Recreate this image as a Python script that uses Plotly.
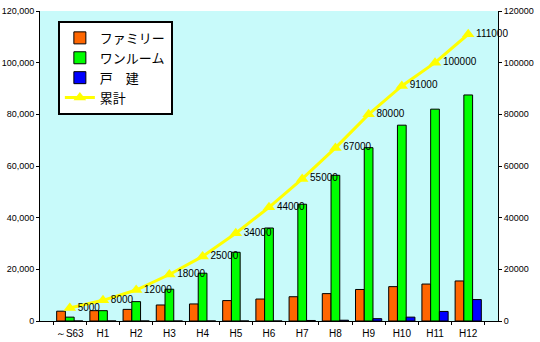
import plotly.graph_objects as go

categories = ["～S63", "H1", "H2", "H3", "H4", "H5", "H6", "H7", "H8", "H9", "H10", "H11", "H12"]
family = [3800, 4000, 4500, 6200, 6600, 7900, 8500, 9400, 10600, 12200, 13300, 14300, 15500]
oneroom = [1500, 4000, 7500, 12300, 18500, 26600, 36000, 45200, 56400, 67100, 75800, 82000, 87500]
kodate = [0, 0, 0, 0, 0, 0, 0, 200, 300, 900, 1500, 3700, 8300]
cumulative = [5000, 8000, 12000, 18000, 25000, 34000, 44000, 55000, 67000, 80000, 91000, 100000, 111000]

left_ticks = [0, 20000, 40000, 60000, 80000, 100000, 120000]

num_font = dict(family="Liberation Sans, Arial, sans-serif", size=9, color="black")
jp_font = "Noto Sans CJK JP, sans-serif"

fig = go.Figure()
fig.add_trace(go.Bar(name="ファミリー", x=categories, y=family,
                     marker=dict(color="#ff6600", line=dict(color="black", width=1))))
fig.add_trace(go.Bar(name="ワンルーム", x=categories, y=oneroom,
                     marker=dict(color="#00ff00", line=dict(color="black", width=1))))
fig.add_trace(go.Bar(name="戸　建", x=categories, y=kodate,
                     marker=dict(color="#0000ff", line=dict(color="black", width=1))))
fig.add_trace(go.Scatter(name="累計", x=categories, y=cumulative,
                         mode="lines+markers+text", cliponaxis=False,
                         line=dict(color="#ffff00", width=3),
                         marker=dict(symbol="triangle-up", size=11, color="#ffff00"),
                         text=[str(v) for v in cumulative], textposition="middle right",
                         textfont=dict(family="Liberation Sans, Arial, sans-serif", size=10, color="black")))
# invisible trace to drive right axis
fig.add_trace(go.Scatter(x=categories, y=cumulative, yaxis="y2", mode="markers",
                         marker=dict(opacity=0), showlegend=False, hoverinfo="skip"))

fig.update_layout(
    width=540, height=342,
    margin=dict(l=40, r=42, t=11, b=21),
    paper_bgcolor="white",
    plot_bgcolor="#c8fafa",
    barmode="group", bargap=0.21, bargroupgap=0,
    showlegend=True,
    legend=dict(x=0.039, y=0.968, xanchor="left", yanchor="top",
                bgcolor="white", bordercolor="black", borderwidth=2,
                font=dict(family=jp_font, size=13, color="black"),
                tracegroupgap=0, itemwidth=30),
    xaxis=dict(type="category", showline=True, linecolor="black", linewidth=1,
               ticks="outside", tickson="boundaries", ticklen=3, tickcolor="black",
               tickangle=0, automargin=False, ticklabelstandoff=3,
               showgrid=False, tickfont=dict(family="Liberation Sans, Arial, sans-serif", size=10, color="black")),
    yaxis=dict(range=[0, 120000], tickvals=left_ticks, tickformat=",d", automargin=False,
               showline=True, linecolor="black", linewidth=1, ticks="outside", ticklen=3,
               tickcolor="black", showgrid=False, zeroline=False, tickfont=num_font),
    yaxis2=dict(range=[0, 120000], tickvals=left_ticks, tickformat="d", overlaying="y", side="right",
                automargin=False,
                showline=True, linecolor="black", linewidth=1, ticks="outside", ticklen=3,
                tickcolor="black", showgrid=False, zeroline=False, tickfont=num_font),
)

fig.write_html("out.html")
